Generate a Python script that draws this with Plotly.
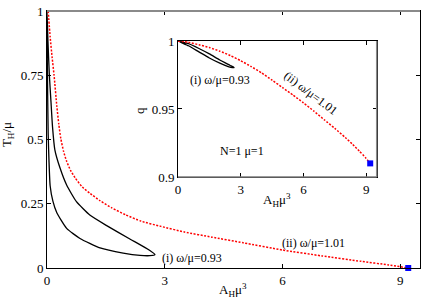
import plotly.graph_objects as go

# ---- main panel data: T_H/mu vs A_H mu^3 ----
loop_A = [0.0, 0.005, 0.015, 0.03, 0.05, 0.08, 0.15, 0.25, 0.5, 0.84, 1.35, 1.94, 2.37, 2.62, 2.75,
          2.62, 2.11, 1.52, 1.09, 0.75, 0.5, 0.33, 0.2, 0.14, 0.1, 0.06, 0.025, 0.0]
loop_T = [1.0, 0.85, 0.7, 0.52, 0.42, 0.32, 0.26, 0.215, 0.154, 0.115, 0.078, 0.058, 0.049, 0.048, 0.052,
          0.068, 0.113, 0.165, 0.206, 0.258, 0.323, 0.39, 0.46, 0.55, 0.65, 0.75, 0.88, 1.0]

red_A = [0.03, 0.08, 0.13, 0.18, 0.25, 0.3, 0.35, 0.42, 0.5, 0.6, 0.72, 0.9, 1.1, 1.35, 1.65, 2.0, 2.4,
         2.9, 3.5, 4.2, 5.0, 6.0, 7.0, 8.0, 8.7, 9.2]
red_T = [1.0, 0.9, 0.82, 0.75, 0.63, 0.56, 0.505, 0.455, 0.415, 0.38, 0.35, 0.315, 0.29, 0.262, 0.234, 0.207, 0.182,
         0.162, 0.14, 0.12, 0.098, 0.07, 0.047, 0.026, 0.012, 0.0]

end_A = [9.2]
end_T = [0.0]

# ---- inset data: q vs A_H mu^3 ----
iloop_A = [0.0, 0.5, 1.0, 1.5, 2.0, 2.4, 2.6, 2.68, 2.5, 2.0, 1.5, 1.0, 0.5, 0.0]
iloop_q = [1.0, 0.9965, 0.992, 0.9875, 0.9837, 0.9812, 0.9804, 0.9805, 0.982, 0.986, 0.9905, 0.9945, 0.998, 1.0]

ired_A = [0.0, 0.5, 1.0, 1.5, 2.0, 2.5, 3.0, 3.5, 4.0, 4.5, 5.0, 5.5, 6.0, 6.5, 7.0, 7.5, 8.0, 8.35, 8.67, 8.95, 9.19]
ired_q = [1.0, 0.9991, 0.9972, 0.9952, 0.9925, 0.9893, 0.9855, 0.9812, 0.9765, 0.9712, 0.9657, 0.9602, 0.9545,
          0.9484, 0.942, 0.9357, 0.929, 0.924, 0.919, 0.9145, 0.910]

iend_A = [9.19]
iend_q = [0.910]

xticks = [0, 3, 6, 9]
yticks_main = [0, 0.25, 0.5, 0.75, 1]
yticks_main_lbl = ["0", "0.25", "0.5", "0.75", "1"]
yticks_in = [0.9, 0.95, 1.0]
yticks_in_lbl = ["0.9", "0.95", "1"]

RED = "#ff0000"
FONT = "Liberation Serif, Times New Roman, serif"

fig = go.Figure()
fig.add_trace(go.Scatter(x=loop_A, y=loop_T, mode="lines", line=dict(color="black", width=1.3, shape="spline", smoothing=0.5),
                         xaxis="x", yaxis="y"))
fig.add_trace(go.Scatter(x=red_A, y=red_T, mode="lines", line=dict(color=RED, width=1.5, dash="2px,1.5px", shape="spline", smoothing=0.5),
                         xaxis="x", yaxis="y"))
fig.add_trace(go.Scatter(x=end_A, y=end_T, mode="markers", marker=dict(color="#0000ff", symbol="square", size=6),
                         xaxis="x", yaxis="y", cliponaxis=False))

fig.add_trace(go.Scatter(x=iloop_A, y=iloop_q, mode="lines", line=dict(color="black", width=1.3, shape="spline", smoothing=0.5),
                         xaxis="x2", yaxis="y2"))
fig.add_trace(go.Scatter(x=ired_A, y=ired_q, mode="lines", line=dict(color=RED, width=1.5, dash="2px,1.5px", shape="spline", smoothing=0.5),
                         xaxis="x2", yaxis="y2"))
fig.add_trace(go.Scatter(x=iend_A, y=iend_q, mode="markers", marker=dict(color="#0000ff", symbol="square", size=6),
                         xaxis="x2", yaxis="y2", cliponaxis=False))

axis_common = dict(showgrid=False, zeroline=False, ticks="inside", ticklen=4, tickcolor="black",
                   showline=True, linecolor="black", linewidth=1, mirror="allticks", automargin=False,
                   tickfont=dict(family=FONT, size=13, color="black"))

fig.update_layout(
    width=436, height=305,
    margin=dict(l=47, r=16, t=11, b=37),
    paper_bgcolor="white", plot_bgcolor="white",
    showlegend=False,
    xaxis=dict(domain=[0, 1], range=[0, 9.5], tickvals=xticks, anchor="y", **axis_common),
    yaxis=dict(domain=[0, 1], range=[0, 1], tickvals=yticks_main, ticktext=yticks_main_lbl, anchor="x", **axis_common),
    xaxis2=dict(domain=[0.3512, 0.8839], range=[0, 9.5], tickvals=xticks, anchor="y2", **axis_common),
    yaxis2=dict(domain=[0.3541, 0.8833], range=[0.9, 1.0], tickvals=yticks_in, ticktext=yticks_in_lbl, anchor="x2", **axis_common),
)

tfont = dict(family=FONT, size=13, color="black")
# axis titles
fig.add_annotation(x=0.4987, y=-0.0856, xref="paper", yref="paper", xanchor="center", yanchor="middle",
                   text="A<sub>H</sub>μ<sup>3</sup>", showarrow=False, font=tfont)
fig.add_annotation(x=-0.107, y=0.5175, xref="paper", yref="paper", xanchor="center", yanchor="middle",
                   text="T<sub>H</sub>/μ", showarrow=False, font=tfont, textangle=-90)
fig.add_annotation(x=0.6166, y=0.2646, xref="paper", yref="paper", xanchor="center", yanchor="middle",
                   text="A<sub>H</sub>μ<sup>3</sup>", showarrow=False, font=tfont)
fig.add_annotation(x=0.2493, y=0.6148, xref="paper", yref="paper", xanchor="center", yanchor="middle",
                   text="q", showarrow=False, font=tfont, textangle=-90)

ann_font = dict(family=FONT, size=12, color="black")
fig.add_annotation(x=3.69, y=0.04, xref="x", yref="y", text="(i) ω/μ=0.93", showarrow=False, font=ann_font)
fig.add_annotation(x=6.8, y=0.097, xref="x", yref="y", text="(ii) ω/μ=1.01", showarrow=False, font=ann_font)
fig.add_annotation(x=2.0, y=0.9713, xref="x2", yref="y2", text="(i) ω/μ=0.93", showarrow=False, font=ann_font)
fig.add_annotation(x=3.05, y=0.919, xref="x2", yref="y2", text="N=1 μ=1", showarrow=False, font=ann_font)
fig.add_annotation(x=6.33, y=0.9615, xref="x2", yref="y2", text="(ii) ω/μ=1.01", showarrow=False, font=ann_font, textangle=37)

# grey frame edges as in the original
fig.add_shape(type="line", xref="x domain", yref="y domain", x0=0, x1=1, y0=1, y1=1, line=dict(color="#8a8a8a", width=2))
fig.add_shape(type="line", xref="x2 domain", yref="y2 domain", x0=0, x1=1, y0=0, y1=0, line=dict(color="#7a7a7a", width=1.5))
fig.add_shape(type="line", xref="x2 domain", yref="y2 domain", x0=1, x1=1, y0=0, y1=1, line=dict(color="#8a8a8a", width=1.5))

# remove the page's default body margin so the figure fills the window exactly
fig.write_html("out.html", config={"displayModeBar": False},
               post_script="document.body.style.margin='0';")
